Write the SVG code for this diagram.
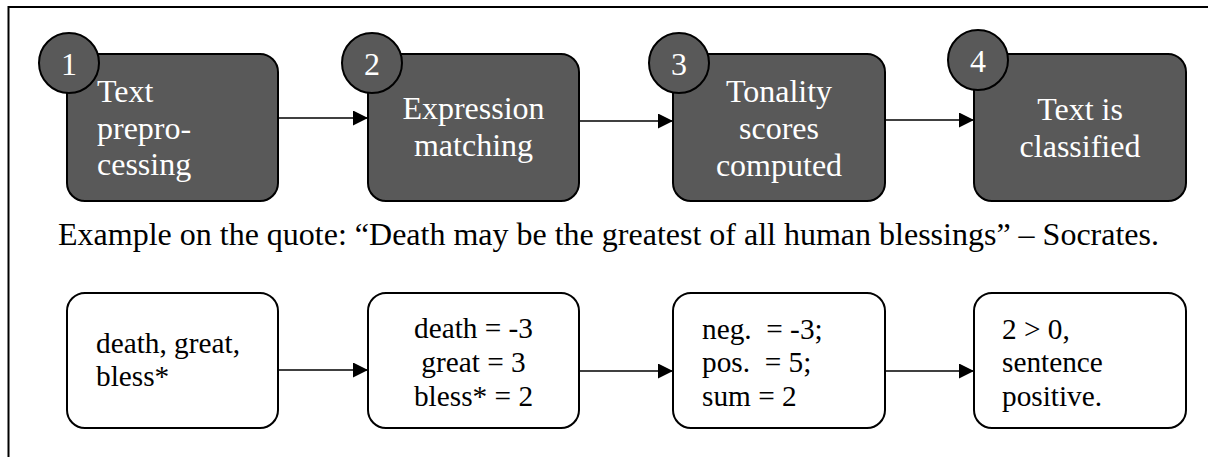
<svg xmlns="http://www.w3.org/2000/svg" width="1208" height="457" viewBox="0 0 1208 457">
<style>
.dark{fill:#595959;stroke:#000;stroke-width:2}
.light{fill:#fff;stroke:#000;stroke-width:2}
.wt{fill:#fff;font-family:"Liberation Serif","Times New Roman",serif;font-size:32px}
.bt{fill:#000;font-family:"Liberation Serif","Times New Roman",serif;font-size:29.3px;white-space:pre}
.ex{fill:#000;font-family:"Liberation Serif","Times New Roman",serif;font-size:32px}
.c{text-anchor:middle}
.conn{stroke:#000;stroke-width:1.5;fill:none}
</style>
<defs>
<marker id="ah" markerUnits="userSpaceOnUse" markerWidth="16" markerHeight="16" refX="15" refY="7.5" orient="auto">
<path d="M0,0 L15,7.5 L0,15 Z" fill="#000"/>
</marker>
</defs>
<path d="M8.5,457 V7 H1208" fill="none" stroke="#000" stroke-width="2"/>
<g id="connectors">
<line class="conn" x1="279" y1="118" x2="368" y2="118" marker-end="url(#ah)"/>
<line class="conn" x1="580" y1="121" x2="673" y2="121" marker-end="url(#ah)"/>
<line class="conn" x1="886" y1="120" x2="974" y2="120" marker-end="url(#ah)"/>
<line class="conn" x1="279" y1="370" x2="368" y2="370" marker-end="url(#ah)"/>
<line class="conn" x1="580" y1="371" x2="673" y2="371" marker-end="url(#ah)"/>
<line class="conn" x1="886" y1="371" x2="974" y2="371" marker-end="url(#ah)"/>
</g>
<g id="step1">
<rect class="dark" x="67" y="54" width="211" height="147" rx="18"/>
<text class="wt" x="97" y="102">Text</text>
<text class="wt" x="97" y="139">prepro-</text>
<text class="wt" x="97" y="175">cessing</text>
<circle class="dark" cx="69" cy="63" r="30"/>
<text class="wt c" x="69" y="75">1</text>
</g>
<g id="step2">
<rect class="dark" x="368" y="54" width="211" height="147" rx="18"/>
<text class="wt c" x="473.5" y="119">Expression</text>
<text class="wt c" x="473.5" y="156">matching</text>
<circle class="dark" cx="372" cy="63" r="30"/>
<text class="wt c" x="372" y="75">2</text>
</g>
<g id="step3">
<rect class="dark" x="673" y="54" width="212" height="147" rx="18"/>
<text class="wt c" x="779" y="102">Tonality</text>
<text class="wt c" x="779" y="139">scores</text>
<text class="wt c" x="779" y="176">computed</text>
<circle class="dark" cx="679" cy="63" r="30"/>
<text class="wt c" x="679" y="75">3</text>
</g>
<g id="step4">
<rect class="dark" x="974" y="54" width="212" height="147" rx="18"/>
<text class="wt c" x="1080" y="120">Text is</text>
<text class="wt c" x="1080" y="157">classified</text>
<circle class="dark" cx="978" cy="60" r="30"/>
<text class="wt c" x="978" y="72">4</text>
</g>
<g id="caption">
<text class="ex" x="58" y="245">Example on the quote: “Death may be the greatest of all human blessings” – Socrates.</text>
</g>
<g id="ex1">
<rect class="light" x="67" y="293" width="211" height="135" rx="18"/>
<text class="bt" x="96" y="353">death, great,</text>
<text class="bt" x="96" y="386">bless*</text>
</g>
<g id="ex2">
<rect class="light" x="368" y="293" width="211" height="135" rx="18"/>
<text class="bt c" x="473.5" y="338">death = -3</text>
<text class="bt c" x="473.5" y="372">great = 3</text>
<text class="bt c" x="473.5" y="406">bless* = 2</text>
</g>
<g id="ex3">
<rect class="light" x="673" y="293" width="212" height="135" rx="18"/>
<text class="bt" x="702" y="339">neg.  = -3;</text>
<text class="bt" x="702" y="372">pos.  = 5;</text>
<text class="bt" x="702" y="406">sum = 2</text>
</g>
<g id="ex4">
<rect class="light" x="974" y="293" width="212" height="135" rx="18"/>
<text class="bt" x="1002" y="339">2 &gt; 0,</text>
<text class="bt" x="1002" y="372">sentence</text>
<text class="bt" x="1002" y="406">positive.</text>
</g>
</svg>
